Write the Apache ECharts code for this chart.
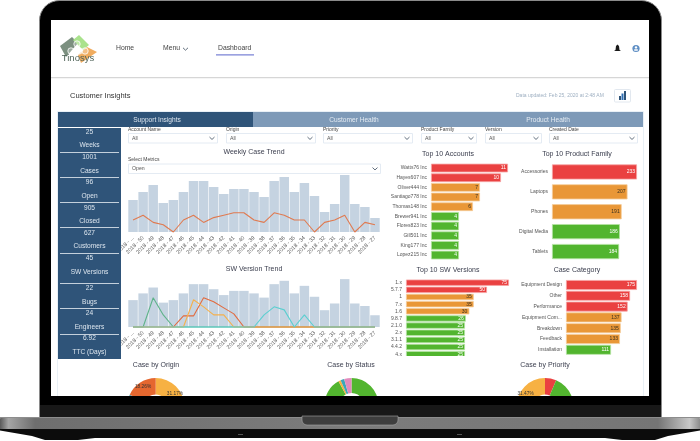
<!doctype html>
<html>
<head>
<meta charset="utf-8">
<title>Customer Insights</title>
<style>
html,body{margin:0;padding:0;background:#fff}
#main{width:700px;height:441px}
</style>
</head>
<body>
<div id="main"></div>
<script src="https://cdn.jsdelivr.net/npm/echarts@6/dist/echarts.min.js"></script>
<script>
// chart data
var weeks = ['2018 - ...','2018 - 50','2018 - 49','2018 - 48','2018 - 47','2018 - 46','2018 - 45','2018 - 44','2018 - 43','2018 - 42','2018 - 41','2018 - 40','2018 - 39','2018 - 38','2018 - 37','2018 - 36','2018 - 35','2018 - 34','2018 - 33','2018 - 32','2018 - 31','2018 - 30','2018 - 29','2018 - 28','2018 - 27'];
var caseCounts = [32,40,47,29,32,40,51,51,45,38,43,43,40,35,51,55,40,49,36,20,28,57,28,25,14];
var openCounts = [5,7,4,3,0,5,7,4,6,7,8,8,5,4,8,7,5,5,0,4,5,7,0,4,3];
var swGreen  = [0,0,29,12,0,0,0,0,0,0,0,0,0,0,0,0,0,0,0,0,0,0,0,0,0];
var swOrange = [0,0,0,0,0,11,11,29,25,19,13,0,0,0,0,0,0,0,0,0,0,0,0,0,0];
var swYellow = [0,0,0,0,0,0,27,20,12,12,0,0,0,0,0,0,0,0,0,0,0,0,0,0,0];
var swTeal   = [0,0,0,0,0,0,0,0,0,0,0,0,0,12,20,17,0,12,0,0,0,0,0,0,0];

var accountNames = ['Watts76 Inc','Hayes607 Inc','Oliver444 Inc','Santiago778 Inc','Thomas148 Inc','Brewer941 Inc','Flores823 Inc','Gill501 Inc','King177 Inc','Lopez215 Inc'];
var accountValues = [11,10,7,7,6,4,4,4,4,4];
var familyNames = ['Accessories','Laptops','Phones','Digital Media','Tablets'];
var familyValues = [233,207,191,186,184];
var versionNames = ['1.x','5.7.7','1','7.x','1.6','9.8.7','2.1.0','2.x','3.1.1','4.4.2','4.x'];
var versionValues = [75,50,35,35,30,26,25,25,25,25,25];
var categoryNames = ['Equipment Design','Other','Performance','Equipment Com...','Breakdown','Feedback','Installation'];
var categoryValues = [175,158,152,137,135,133,111];

var originValues = [31.17,30.2,12.4,7.97,18.26];
var statusValues = [92,1.4,2.2,4.4];
var priorityValues = [6.4,62.13,31.47];

var kpiValues = ['25','1001','96','905','627','45','22','24','6.92'];
var kpiNames = ['Weeks','Cases','Open','Closed','Customers','SW Versions','Bugs','Engineers','TTC (Days)'];
var filterNames = ['Account Name','Origin','Priority','Product Family','Version','Created Date'];

var RED = '#ea4141', ORANGE = '#e99737', GREEN = '#52b52f';
var FONT = '"Liberation Sans", Arial, sans-serif';

function tierColor(i, nRed, nOrange) {
    return i < nRed ? RED : (i < nRed + nOrange ? ORANGE : GREEN);
}
function lighter(c) {
    return c == RED ? '#f6a5a5' : (c == ORANGE ? '#f5cd9b' : '#b5e3a3');
}

// graphic helpers
function rect(x, y, w, h, fill, z, r) {
    return {type:'rect', z:z, silent:true, shape:{x:x, y:y, width:w, height:h, r:r||0}, style:{fill:fill}};
}
function txt(s, x, y, size, color, align, z) {
    return {type:'text', z:z===undefined?5:z, silent:true, style:{text:s, x:x, y:y, font:size+'px '+FONT, fill:color, textAlign:align||'left', textVerticalAlign:'middle'}};
}
function poly(points, fill, z) {
    return {type:'polygon', z:z, silent:true, shape:{points:points}, style:{fill:fill}};
}
function chevron(x, y) {
    return {type:'polyline', z:5, silent:true, shape:{points:[[x-2.5,y-1.2],[x,y+1.2],[x+2.5,y-1.2]]}, style:{stroke:'#3a4a5c', lineWidth:0.8, fill:null}};
}
function selectBox(x, y, w, h, label) {
    return [
        {type:'rect', z:4, silent:true, shape:{x:x+0.5, y:y+0.5, width:w, height:h}, style:{fill:'#fff', stroke:'#e4ebf3', lineWidth:1}},
        txt(label, x+4, y+h/2+0.5, 5.2, '#555'),
        chevron(x+w-5, y+h/2+0.5)
    ];
}

var under = [];  // drawn below the charts
var over = [];   // laptop bezel, drawn on top so it clips the pies

// laptop lid and screen
under.push({type:'rect', z:-10, silent:true, shape:{x:39.5, y:0.5, width:622, height:420, r:[20,20,0,0]}, style:{fill:'#000', stroke:'#8a8a8a', lineWidth:1}});
under.push(rect(51, 20, 598, 376, '#fff', -9));

// nav bar
under.push(rect(51, 77, 598, 1.2, '#d6d6d6', -8));
under.push(poly([[60,46],[72,37],[78,43],[66,57]], '#7c9080', -8));
under.push(poly([[73,40],[79,35],[89,45],[83,50]], '#a9e28c', -8));
under.push(poly([[78,55],[87,47],[97,52],[81,63]], '#f0ac5f', -8));
[[77,44],[71,51],[79,51],[85,51]].forEach(function (c) {
    under.push({type:'circle', z:-7, silent:true, shape:{cx:c[0], cy:c[1], r:3.2}, style:{fill:'rgba(255,255,255,0.25)', stroke:'#fff', lineWidth:0.8}});
});
under.push(txt('Tinosys', 78, 58.5, 9.5, '#4f6358', 'center'));
under.push(txt('Home', 116, 48.5, 6.8, '#444'));
under.push(txt('Menu', 163, 48.5, 6.8, '#444'));
under.push(chevron(185.5, 49));
under.push(txt('Dashboard', 218, 48.5, 6.8, '#444'));
under.push(rect(216, 54.2, 38, 1.2, '#7b83d6', 4));
under.push(poly([[617.5,44.5],[619,46],[619.5,50],[621,51],[614,51],[615.5,50],[616,46]], '#1a1a1a', 4));
under.push({type:'circle', z:4, silent:true, shape:{cx:636, cy:48.5, r:3.6}, style:{fill:'#5f8fc4'}});
under.push({type:'circle', z:5, silent:true, shape:{cx:636, cy:47.4, r:1.2}, style:{fill:'#fff'}});
under.push({type:'rect', z:5, silent:true, shape:{x:634, y:49.2, width:4, height:1.6, r:0.8}, style:{fill:'#fff'}});

// page header
under.push(txt('Customer Insights', 70, 96, 7.5, '#333'));
under.push(txt('Data updated: Feb 25, 2020 at 2:48 AM', 516, 95.5, 5, '#9fb0c2'));
under.push({type:'rect', z:4, silent:true, shape:{x:614.5, y:89.5, width:16, height:12.5, r:1}, style:{fill:'#fff', stroke:'#e2e8ef', lineWidth:1}});
under.push(rect(619, 96, 2, 4, '#2f5479', 5));
under.push(rect(621.5, 93.5, 2, 6.5, '#2f6fb2', 5));
under.push(rect(624, 91, 2, 9, '#2f5479', 5));

// outer panel and tabs
under.push({type:'rect', z:-8, silent:true, shape:{x:57.5, y:111.5, width:586, height:290}, style:{fill:'#fff', stroke:'#e9f0f6', lineWidth:1}});
under.push(rect(58, 112, 195, 15, '#2f5479', 3));
under.push(rect(253, 112, 390, 15, '#7e9ab8', 3));
under.push(txt('Support Insights', 157, 120, 6.6, '#dce5ee', 'center'));
under.push(txt('Customer Health', 354, 120, 6.6, '#e4ebf2', 'center'));
under.push(txt('Product Health', 548, 120, 6.6, '#e4ebf2', 'center'));

// KPI column
under.push(rect(58, 128, 63, 231, '#2f5479', 3));
var kpiValueY = [132,157,182,208,233,258,288,313,338];
var kpiNameY = [145,171,196,221,246,272,302,327,352];
var kpiRuleY = [152,177,202,227,253,283,308,334];
kpiValues.forEach(function (v, i) {
    under.push(txt(v, 89.5, kpiValueY[i], 6.6, '#dce5ee', 'center'));
    under.push(txt(kpiNames[i], 89.5, kpiNameY[i], 6.6, '#dce5ee', 'center'));
});
kpiRuleY.forEach(function (y) { under.push(rect(60, y, 59, 1, '#c4d0dc', 4)); });

// filter row
var filterX = [128,226,323,421,485,549];
var filterW = [89,89,89,55,56,88];
filterNames.forEach(function (name, i) {
    under.push(txt(name, filterX[i], 130, 5, '#444'));
    under = under.concat(selectBox(filterX[i], 133, filterW[i], 9.5, 'All'));
});
under.push(txt('Select Metrics', 128, 160, 5, '#444'));
under = under.concat(selectBox(128, 163.5, 252, 9.5, 'Open'));

// bezel and base on top of the pies
over.push(rect(40, 396, 621, 9, '#000', 100));
over.push(rect(40, 405, 621, 12, '#181818', 100));
over.push({type:'rect', z:101, silent:true, shape:{x:0, y:417, width:700, height:12, r:[2,2,0,0]},
    style:{fill:new echarts.graphic.LinearGradient(0,0,1,0,[
        {offset:0,color:'#5a5a5a'},{offset:0.012,color:'#a5a5a5'},{offset:0.05,color:'#6e6e6e'},
        {offset:0.5,color:'#7c7c7c'},{offset:0.94,color:'#757575'},{offset:0.985,color:'#c8c8c8'},{offset:1,color:'#8c8c8c'}])}});
over.push(rect(0, 417, 700, 1, '#8d8d8d', 102));
over.push({type:'rect', z:103, silent:true, shape:{x:302, y:416, width:96, height:9, r:[0,0,5,5]}, style:{fill:'#3e3e3e', stroke:'#a8a8a8', lineWidth:0.6}});
over.push(poly([[0,429],[700,429],[700,430.5],[668,436],[655,440],[622,440],[605,438],[95,438],[78,440],[45,440],[32,436],[0,430.5]], '#0c0c0c', 100));
over.push(rect(238, 434, 5, 1, '#555', 101));
over.push(rect(457, 434, 5, 1, '#555', 101));
// the last SW Versions row is cut off in the card
over.push(rect(385, 356, 130, 2.5, '#fff', 6));

// chart helpers
function chartTitle(text, x, y) {
    return {text:text, left:x, top:y, textAlign:'center', padding:0, textStyle:{fontSize:7, fontWeight:'normal', color:'#3d4050', fontFamily:FONT}};
}
function trendAxis(gridIndex) {
    return {type:'category', gridIndex:gridIndex, data:weeks, axisLine:{show:false}, axisTick:{show:false},
        axisLabel:{interval:0, rotate:45, fontSize:5.4, color:'#555', margin:5, fontFamily:FONT}};
}
function hiddenY(gridIndex, max) {
    return {type:'value', gridIndex:gridIndex, min:0, max:max, show:false};
}
function caseBars(xi, yi) {
    return {type:'bar', xAxisIndex:xi, yAxisIndex:yi, data:caseCounts, barCategoryGap:'6%', itemStyle:{color:'#c5d3e1'}};
}
function trendLine(data, color, xi, yi) {
    return {type:'line', xAxisIndex:xi, yAxisIndex:yi, data:data, symbol:'none', clip:false, lineStyle:{color:color, width:1.1}, z:3};
}
function catAxis(gridIndex, names) {
    return {type:'category', gridIndex:gridIndex, data:names, inverse:true, axisLine:{show:false}, axisTick:{show:false},
        axisLabel:{fontSize:5, color:'#555', margin:4, interval:0, fontFamily:FONT}};
}
// shown is the number printed on the bar, values is the drawn length
function rankBar(xi, yi, values, nRed, nOrange, gap, shown) {
    return {type:'bar', xAxisIndex:xi, yAxisIndex:yi, barCategoryGap:gap,
        data:values.map(function (v, i) {
            var c = tierColor(i, nRed, nOrange);
            return {value:v, itemStyle:{color:c, borderColor:lighter(c), borderWidth:0.8},
                label:{color:c == ORANGE ? '#3a3020' : '#fff'}};
        }),
        label:{show:true, position:'insideRight', fontSize:5, distance:2, fontFamily:FONT,
            formatter:function (p) { return (shown || values)[p.dataIndex]; }}};
}
function donut(values, colors, cx, cy, r0, r1) {
    return {type:'pie', center:[cx,cy], radius:[r0,r1], startAngle:90, percentPrecision:2, silent:true,
        data:values.map(function (v, i) { return {value:v, itemStyle:{color:colors[i]}}; }),
        labelLine:{show:false},
        label:{position:'inside', fontSize:4.8, color:'#333', fontFamily:FONT,
            formatter:function (p) { return p.percent >= 15 && p.percent < 50 ? p.percent.toFixed(2) + '%' : ''; }}};
}

// the SW Versions bars are not drawn from zero in the picture, 25 is already 59px long
var versionLengths = versionValues.map(function (v) { return v + 42; });

var option = {
    animation:false,
    backgroundColor:'#fff',
    textStyle:{fontFamily:FONT},
    title:[
        chartTitle('Weekly Case Trend', 254, 148.5),
        chartTitle('SW Version Trend', 254, 266),
        chartTitle('Top 10 Accounts', 448, 150.5),
        chartTitle('Top 10 Product Family', 577, 150.5),
        chartTitle('Top 10 SW Versions', 448, 266.5),
        chartTitle('Case Category', 577, 266.5),
        chartTitle('Case by Origin', 156, 361.5),
        chartTitle('Case by Status', 351, 361.5),
        chartTitle('Case by Priority', 545, 361.5)
    ],
    grid:[
        {left:128, top:172, width:252, height:60},
        {left:128, top:276.6, width:252, height:50.4},
        {left:431, top:163.2, width:77, height:96.7},
        {left:552, top:162, width:85, height:99.5},
        {left:406, top:279.1, width:103, height:78.7},
        {left:566, top:279.6, width:71, height:75.6}
    ],
    xAxis:[
        trendAxis(0),
        trendAxis(1),
        {type:'value', gridIndex:2, min:0, max:11, show:false},
        {type:'value', gridIndex:3, min:0, max:233, show:false},
        {type:'value', gridIndex:4, min:0, max:117, show:false},
        {type:'value', gridIndex:5, min:0, max:175, show:false}
    ],
    yAxis:[
        hiddenY(0, 60),
        hiddenY(0, 25),
        hiddenY(1, 60),
        hiddenY(1, 50),
        catAxis(2, accountNames),
        catAxis(3, familyNames),
        catAxis(4, versionNames),
        catAxis(5, categoryNames)
    ],
    series:[
        caseBars(0, 0),
        trendLine(openCounts, '#e07a50', 0, 1),
        caseBars(1, 2),
        trendLine(swGreen, '#5fb38a', 1, 3),
        trendLine(swOrange, '#e26a3e', 1, 3),
        trendLine(swYellow, '#f5b04c', 1, 3),
        trendLine(swTeal, '#5ccfd0', 1, 3),
        rankBar(2, 4, accountValues, 2, 3, '10%'),
        rankBar(3, 5, familyValues, 1, 2, '24%'),
        rankBar(4, 6, versionLengths, 2, 3, '12%', versionValues),
        rankBar(5, 7, categoryValues, 3, 3, '8%'),
        donut(originValues, ['#f7b143','#52b52f','#4e86c6','#3aa7b8','#e5672f'], 155.7, 406.5, 12, 28.5),
        donut(statusValues, ['#52b52f','#f7b143','#3aa7b8','#e28bbd'], 351.5, 405, 12, 27),
        donut(priorityValues, ['#ea4141','#52b52f','#f7b143'], 545, 406.5, 12, 28.5)
    ],
    graphic:{elements:under.concat(over)}
};

var myChart = echarts.init(document.getElementById('main'), null, {renderer:'canvas'});
myChart.setOption(option);
</script>
</body>
</html>
